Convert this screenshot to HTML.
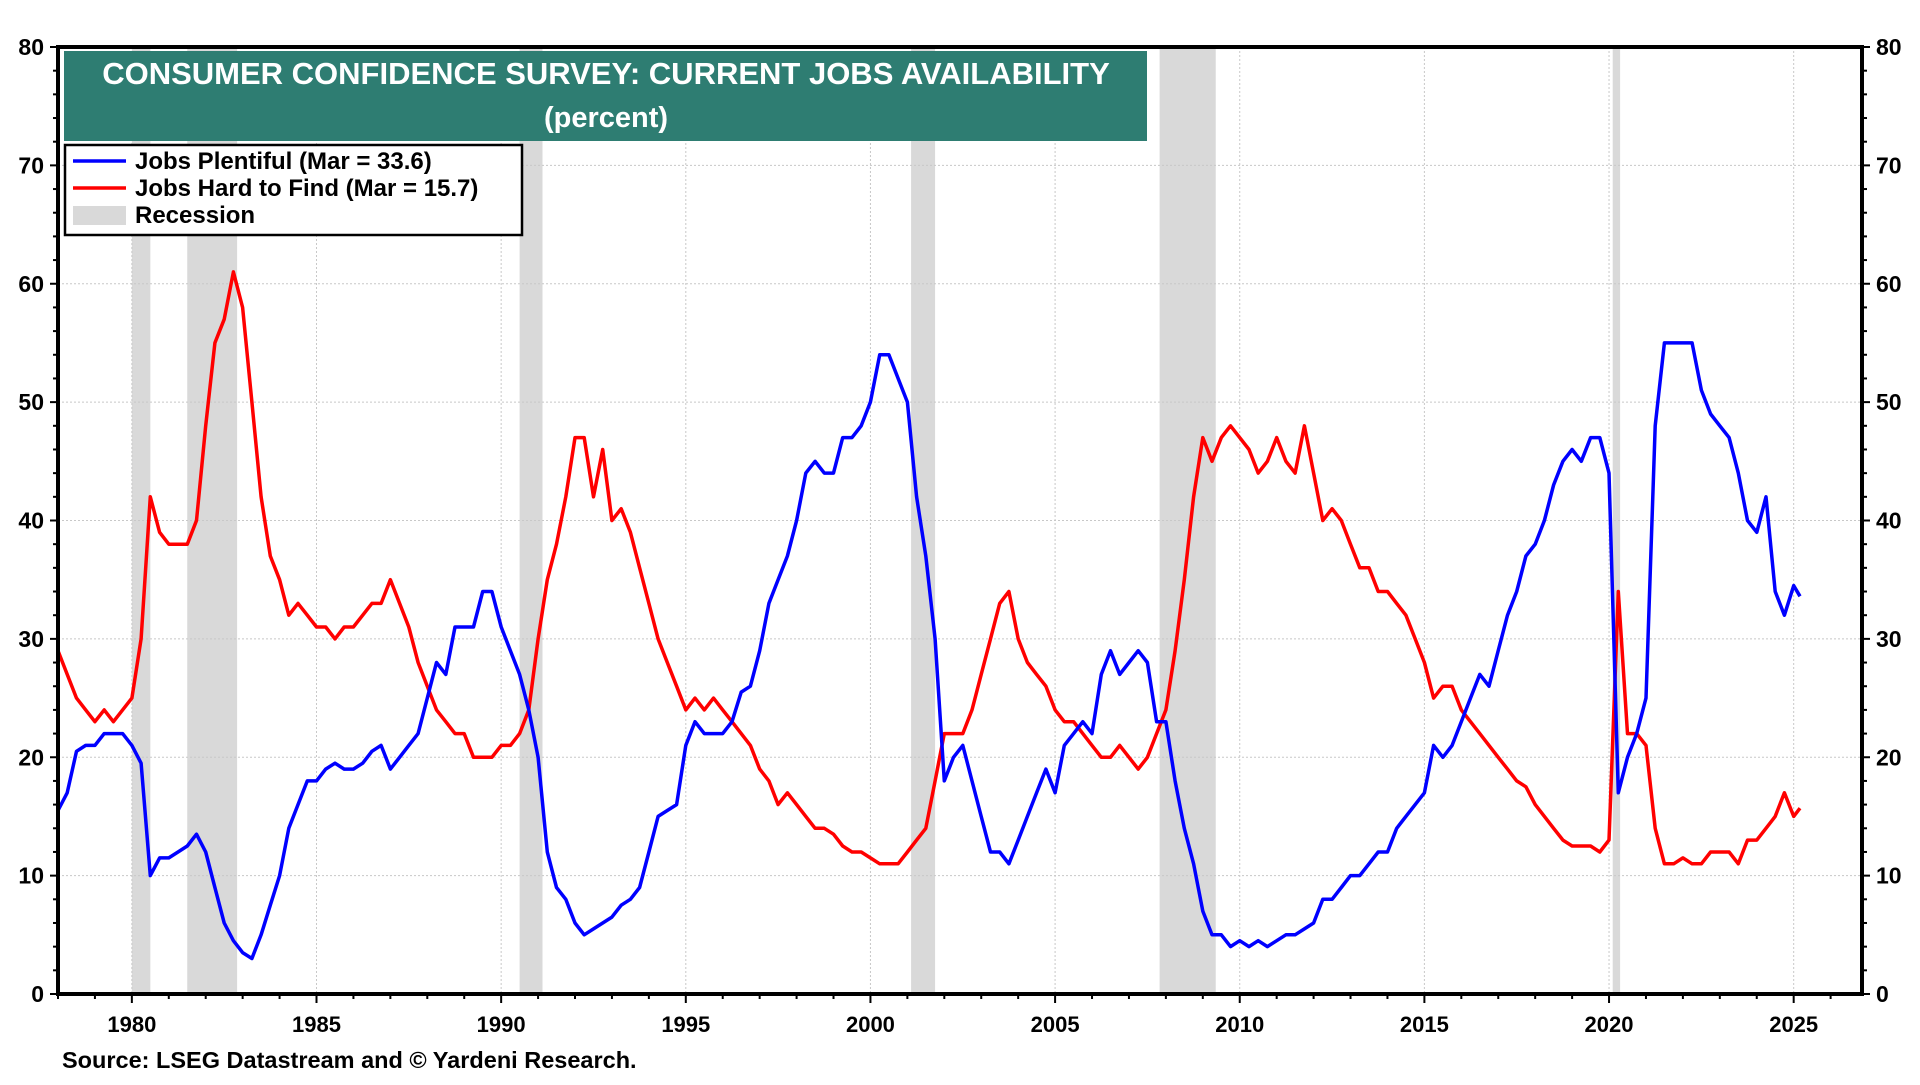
<!DOCTYPE html>
<html><head><meta charset="utf-8"><style>
html,body{margin:0;padding:0;background:#fff;}
svg text{font-family:"Liberation Sans",Arial,sans-serif;font-weight:bold;}
</style></head><body>
<svg id="chart" width="1920" height="1080" viewBox="0 0 1920 1080" xmlns="http://www.w3.org/2000/svg"></svg>
<script>
const startYear = 1978;
const jobsPlentiful = [
15.5,17,20.5,21, 21,22,22,22, 21,19.5,10,11.5, 11.5,12,12.5,13.5, 12,9,6,4.5, 3.5,3,5,7.5,
10,14,16,18, 18,19,19.5,19, 19,19.5,20.5,21, 19,20,21,22, 25,28,27,31, 31,31,34,34,
31,29,27,24, 20,12,9,8, 6,5,5.5,6, 6.5,7.5,8,9, 12,15,15.5,16, 21,23,22,22,
22,23,25.5,26, 29,33,35,37, 40,44,45,44, 44,47,47,48, 50,54,54,52, 50,42,37,30,
18,20,21,18, 15,12,12,11, 13,15,17,19, 17,21,22,23, 22,27,29,27, 28,29,28,23,
23,18,14,11, 7,5,5,4, 4.5,4,4.5,4, 4.5,5,5,5.5, 6,8,8,9, 10,10,11,12,
12,14,15,16, 17,21,20,21, 23,25,27,26, 29,32,34,37, 38,40,43,45, 46,45,47,47,
44,17,20,22, 25,48,55,55, 55,55,51,49, 48,47,44,40, 39,42,34,32, 34.5];
const jobsHardToFind = [
29,27,25,24, 23,24,23,24, 25,30,42,39, 38,38,38,40, 48,55,57,61, 58,50,42,37,
35,32,33,32, 31,31,30,31, 31,32,33,33, 35,33,31,28, 26,24,23,22, 22,20,20,20,
21,21,22,24, 30,35,38,42, 47,47,42,46, 40,41,39,36, 33,30,28,26, 24,25,24,25,
24,23,22,21, 19,18,16,17, 16,15,14,14, 13.5,12.5,12,12, 11.5,11,11,11, 12,13,14,18,
22,22,22,24, 27,30,33,34, 30,28,27,26, 24,23,23,22, 21,20,20,21, 20,19,20,22,
24,29,35,42, 47,45,47,48, 47,46,44,45, 47,45,44,48, 44,40,41,40, 38,36,36,34,
34,33,32,30, 28,25,26,26, 24,23,22,21, 20,19,18,17.5, 16,15,14,13, 12.5,12.5,12.5,12,
13,34,22,22, 21,14,11,11, 11.5,11,11,12, 12,12,11,13, 13,14,15,17, 15];
const lastDate = 2025.17, lastPlentiful = 33.6, lastHard = 15.7;
const recessionStarts = [1980.0, 1981.5, 1990.5, 2001.1, 2007.83, 2020.1];
const recessionEnds   = [1980.5, 1982.85, 1991.12, 2001.75, 2009.35, 2020.3];
const yTicks = [0,10,20,30,40,50,60,70,80];
const xLabels = [1980,1985,1990,1995,2000,2005,2010,2015,2020,2025];

const L=58,R=1862,T=47,B=994, X0=1978.0, X1=2026.85, Y0=0, Y1=80;
const xs=v=>L+(v-X0)/(X1-X0)*(R-L);
const ys=v=>B-(v-Y0)/(Y1-Y0)*(B-T);
const svg=document.getElementById('chart');
const NS='http://www.w3.org/2000/svg';
function mk(tag,attrs,parent){const e=document.createElementNS(NS,tag);for(const k in attrs)e.setAttribute(k,attrs[k]);(parent||svg).appendChild(e);return e;}

recessionStarts.forEach((s,i)=>{
  const r=mk('rect',{x:xs(s),y:T,width:xs(recessionEnds[i])-xs(s),height:B-T,fill:'#d9d9d9'});
  
  
});
yTicks.forEach(v=>{ if(v>0&&v<80){const g=mk('line',{x1:L,x2:R,y1:ys(v),y2:ys(v),stroke:'#c8c8c8','stroke-width':1,'stroke-dasharray':'2,2'});
  
  }});
xLabels.forEach(v=>{const g=mk('line',{x1:xs(v),x2:xs(v),y1:T,y2:B,stroke:'#c8c8c8','stroke-width':1,'stroke-dasharray':'2,2'});
  
  });

function series(vals,last,color,name){
  let d='';
  vals.forEach((v,i)=>{d+=(i?'L':'M')+xs(startYear+i*0.25).toFixed(1)+','+ys(v).toFixed(1);});
  d+='L'+xs(lastDate).toFixed(1)+','+ys(last).toFixed(1);
  const p=mk('path',{d:d,fill:'none',stroke:color,'stroke-width':3.5,'stroke-linejoin':'round'});
  
  
}
series(jobsHardToFind,lastHard,'#ff0000','jobs-hard-to-find-line');
series(jobsPlentiful,lastPlentiful,'#0000ff','jobs-plentiful-line');

const fr=mk('rect',{x:L,y:T,width:R-L,height:B-T,fill:'none',stroke:'#000','stroke-width':4});



for(let v=0;v<=80;v+=2){
  const len=v%10===0?8:5;
  mk('line',{x1:L-len,x2:L,y1:ys(v),y2:ys(v),stroke:'#000','stroke-width':2});
  mk('line',{x1:R,x2:R+len,y1:ys(v),y2:ys(v),stroke:'#000','stroke-width':2});
}
yTicks.forEach(v=>{
  const t1=mk('text',{x:L-14,y:ys(v)+8,'text-anchor':'end','font-size':23,fill:'#000'});t1.textContent=v;
  
  
  const t2=mk('text',{x:R+14,y:ys(v)+8,'text-anchor':'start','font-size':23,fill:'#000'});t2.textContent=v;
  
  
});
for(let y=1978;y<=2026;y++){
  const len=y%5===0?9:5;
  mk('line',{x1:xs(y),x2:xs(y),y1:B,y2:B+len,stroke:'#000','stroke-width':2});
}
xLabels.forEach(v=>{
  const t=mk('text',{x:xs(v),y:B+38,'text-anchor':'middle','font-size':22,fill:'#000'});t.textContent=v;
  
  
});

const tb=mk('rect',{x:64,y:51,width:1083,height:90,fill:'#2e7d72'});


const tt=mk('text',{x:606,y:84,'text-anchor':'middle','font-size':31,fill:'#fff'});tt.textContent='CONSUMER CONFIDENCE SURVEY: CURRENT JOBS AVAILABILITY';


const ts=mk('text',{x:606,y:127,'text-anchor':'middle','font-size':29,fill:'#fff'});ts.textContent='(percent)';



const lg=mk('rect',{x:65,y:145,width:457,height:90,fill:'#fff',stroke:'#000','stroke-width':2.5});


const items=[['#0000ff','Jobs Plentiful (Mar = 33.6)','line'],['#ff0000','Jobs Hard to Find (Mar = 15.7)','line'],['#d9d9d9','Recession','box']];
items.forEach((it,i)=>{
  const cy=161+i*27;
  if(it[2]==='line') mk('line',{x1:73,x2:126,y1:cy,y2:cy,stroke:it[0],'stroke-width':3.5});
  else mk('rect',{x:73,y:cy-9,width:53,height:19,fill:it[0]});
  const t=mk('text',{x:135,y:cy+8,'font-size':24,fill:'#000'});t.textContent=it[1];
  
  
});

const src=mk('text',{x:62,y:1068,'font-size':23.5,fill:'#000'});src.textContent='Source: LSEG Datastream and © Yardeni Research.';


</script>
</body></html>
